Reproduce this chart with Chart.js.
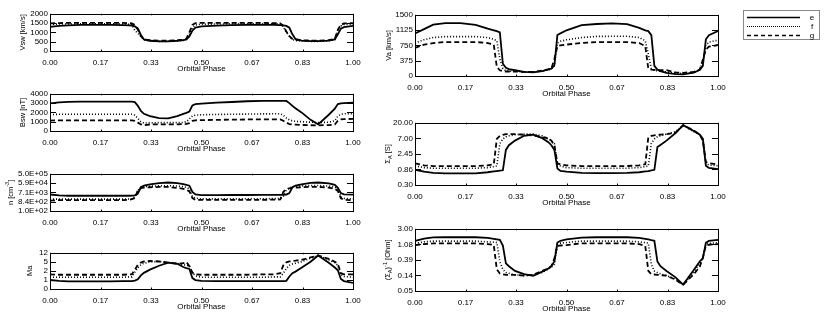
<!DOCTYPE html>
<html>
<head>
<meta charset="utf-8">
<script src="https://cdn.jsdelivr.net/npm/chart.js@4.4.1/dist/chart.umd.min.js"></script>
<style>
  html, body { margin: 0; padding: 0; background: #fff; }
  #wrap { position: relative; width: 830px; height: 320px; overflow: hidden; }
  .pane { position: absolute; }
</style>
</head>
<body>
<div id="wrap"></div>
<script>
// orbital phase grid shared by every series
var phase = [0, 0.03, 0.06, 0.10, 0.15, 0.20, 0.24, 0.26, 0.27, 0.28,
  0.29, 0.30, 0.31, 0.33, 0.36, 0.39, 0.42, 0.44, 0.45, 0.46,
  0.47, 0.48, 0.50, 0.55, 0.60, 0.65, 0.70, 0.74, 0.76, 0.77,
  0.78, 0.79, 0.80, 0.81, 0.83, 0.86, 0.885, 0.92, 0.94, 0.95,
  0.96, 0.97, 1.00];

var seriesNames = ['e', 'f', 'g'];
var xTickLabels = ['0.00', '0.17', '0.33', '0.50', '0.67', '0.83', '1.00'];

// Vsw [km/s]
var vswE = [1300,1350,1380,1400,1400,1400,1390,1380,1370,1330, 1200,860,620,550,520,520,550,580,620,780,
  1100,1260,1320,1360,1390,1400,1400,1400,1390,1380, 1350,1250,900,650,560,530,530,560,620,900, 1200,1280,1350];
var vswF = [1420,1450,1450,1460,1460,1460,1450,1440,1420,1100, 950,780,600,540,520,520,540,570,620,900,
  1250,1400,1440,1450,1460,1460,1460,1460,1450,1300, 1000,800,620,560,540,520,520,550,620,1100, 1350,1420,1440];
var vswG = [1480,1500,1510,1510,1510,1510,1510,1500,1480,1400, 1150,800,620,580,560,560,580,600,660,1000,
  1400,1500,1510,1510,1510,1510,1510,1500,1490,1350, 1050,800,650,600,580,560,560,580,650,1150, 1400,1480,1500];
var vswTickLabels = ['0', '500', '1000', '1500', '2000'];

// Bsw [nT]
var bswE = [2980,3080,3130,3150,3160,3160,3160,3150,3150,3100, 2700,2150,1850,1600,1380,1360,1600,1850,1950,2100,
  2750,2880,2950,3050,3120,3200,3230,3250,3250,3250, 3230,3000,2700,2450,2000,1200,720,1750,2400,2900, 2980,3000,3050];
var bswF = [1760,1800,1800,1800,1800,1800,1800,1800,1800,1700, 1350,1000,850,880,900,900,900,920,1000,1300,
  1630,1700,1750,1780,1800,1820,1840,1850,1850,1700, 1400,1200,1100,1050,1000,950,900,950,1100,1600, 1800,1850,1850];
var bswG = [1120,1150,1150,1150,1150,1150,1150,1150,1150,1100, 900,700,620,700,720,720,720,740,760,850,
  1080,1150,1170,1200,1220,1240,1250,1260,1250,1100, 900,750,700,680,650,620,600,640,700,1100, 1250,1280,1300];
var bswTickLabels = ['0', '1000', '2000', '3000', '4000'];

// n [cm-3]
var nE = [4400,3500,3300,3300,3300,3300,3300,3300,3400,3600, 5500,23000,33000,44000,59000,68000,60000,46000,40000,33000,
  8000,4500,3800,3800,3900,3900,4000,4000,4000,4000, 4200,6000,23000,33000,45000,62000,68000,55000,40000,20000, 6000,4500,4200];
var nF = [1500,1500,1500,1500,1500,1500,1500,1550,1600,2700, 11000,23000,26000,29000,32000,33000,30000,26000,22000,16000,
  2700,1900,1600,1600,1600,1650,1650,1700,1700,3000, 12000,20000,25000,28000,31000,34000,34000,30000,24000,15000, 2500,1800,1600];
var nG = [1070,1200,1230,1230,1230,1230,1230,1300,1500,1900, 11000,19000,21000,23000,24500,24500,20000,16000,13000,9000,
  1900,1300,1250,1250,1250,1300,1300,1350,1400,8000, 15000,18000,20000,21000,23000,25000,25000,21000,16000,10000, 1800,1300,1200];
var nTickLabels = ['1.0E+02', '8.4E+02', '7.1E+03', '5.9E+04', '5.0E+05'];

// Ma
var maE = [1.1,1.02,0.98,0.98,0.98,0.98,0.99,1.0,1.0,1.05, 1.17,1.65,2.06,2.74,3.86,5.1,4.57,3.44,3.1,2.9,
  1.3,1.1,1.02,1.0,1.0,1.0,1.0,1.0,1.0,1.0, 1.02,1.5,2.0,2.3,3.2,5.5,9.5,5.0,3.3,2.6, 1.2,1.0,0.85];
var maF = [1.4,1.4,1.4,1.4,1.4,1.4,1.4,1.45,1.45,2.2, 3.2,4.2,4.8,5.4,5.6,5.1,4.8,4.2,4.0,3.9,
  2.1,1.6,1.4,1.4,1.4,1.4,1.4,1.45,1.45,2.0, 3.0,4.0,4.5,4.8,5.5,7.5,9.5,6.5,5.0,4.0, 1.8,1.5,1.4];
var maG = [1.8,1.75,1.75,1.75,1.75,1.75,1.75,1.8,1.8,2.7, 4.2,5.1,5.6,5.9,5.6,5.1,4.6,4.8,5.4,3.7,
  2.1,1.8,1.75,1.75,1.75,1.75,1.8,1.8,2.0,4.0, 5.2,5.6,5.8,6.0,6.5,8.0,9.5,7.0,5.5,4.5, 2.0,1.8,1.8];
var maTickLabels = ['0', '1', '2', '5', '12'];

// Va [km/s]
var vaE = [1044,1150,1260,1295,1295,1255,1160,1120,1100,1070, 300,200,170,141,100,88,120,165,180,260,
  1005,1044,1120,1245,1275,1290,1272,1178,1120,1100, 1000,250,157,120,78,47,40,80,150,250, 900,1000,1100];
var vaF = [808,890,942,965,965,965,942,900,864,416, 180,126,120,118,100,100,120,150,173,260,
  808,850,887,942,970,973,973,942,864,534, 180,141,126,115,100,70,60,90,150,350, 750,830,880];
var vaG = [690,770,808,832,832,832,808,770,220,141, 120,110,110,110,100,100,130,160,180,416,
  730,750,770,808,832,832,832,808,730,180, 157,150,141,141,141,90,78,100,160,400, 650,720,760];
var vaTickLabels = ['0', '375', '750', '1125', '1500'];

// Sigma_A [S]
var sigE = [0.84,0.74,0.68,0.66,0.66,0.66,0.71,0.75,0.77,0.79, 0.81,3.2,4.4,6.0,8.3,9.0,7.1,5.4,4.4,3.2,
  0.91,0.78,0.74,0.68,0.67,0.67,0.68,0.71,0.75,0.77, 0.8,0.84,3.9,4.5,6.0,10,17,11.5,9,6.8, 1.1,0.95,0.88];
var sigF = [1.08,0.97,0.93,0.93,0.93,0.93,0.97,1.04,1.08,4.9, 6.7,7.8,8.3,8.9,9.3,9.3,8.3,6.7,6.0,4.9,
  1.21,1.08,0.97,0.93,0.93,0.93,0.93,0.97,1.04,1.08, 4.9,6.7,7.8,8.3,9.3,11,17,11,9,7, 1.3,1.15,1.1];
var sigG = [1.29,1.13,1.08,1.08,1.08,1.08,1.13,1.21,6.7,8.3, 8.9,9.3,9.3,9.3,8.9,8.5,7.5,7.1,6.0,4.4,
  1.29,1.21,1.13,1.08,1.08,1.08,1.08,1.13,1.21,7.5, 8.3,8.6,8.9,9.0,9.3,10.3,17,12,9,6, 1.4,1.3,1.2];
var sigTickLabels = ['0.30', '0.86', '2.45', '7.00', '20.00'];

// (Sigma_A)^-1 [Ohm]
var invE = [1.36,1.57,1.71,1.72,1.72,1.72,1.64,1.55,1.5,1.45, 0.99,0.31,0.255,0.187,0.151,0.135,0.179,0.22,0.255,0.35,
  1.22,1.36,1.5,1.68,1.72,1.72,1.72,1.64,1.55,1.5, 1.42,1.36,0.35,0.255,0.187,0.123,0.076,0.2,0.35,0.43, 1.2,1.35,1.45];
var invF = [1.15,1.27,1.33,1.33,1.33,1.33,1.27,1.24,1.22,0.35, 0.207,0.168,0.16,0.145,0.137,0.145,0.17,0.21,0.24,0.29,
  1.1,1.17,1.22,1.33,1.33,1.33,1.33,1.27,1.2,1.17, 0.29,0.187,0.168,0.155,0.137,0.11,0.076,0.17,0.3,0.45, 1.1,1.15,1.2];
var invG = [1.03,1.1,1.15,1.15,1.15,1.15,1.1,1.03,0.207,0.158, 0.15,0.145,0.145,0.145,0.137,0.145,0.19,0.22,0.255,0.43,
  0.97,1.0,1.03,1.15,1.15,1.15,1.15,1.1,0.97,0.187, 0.151,0.148,0.145,0.142,0.137,0.105,0.076,0.15,0.25,0.45, 1.0,1.05,1.1];
var invTickLabels = ['0.05', '0.14', '0.39', '1.08', '3.00'];


var FONT = {family: '"Liberation Sans", Arial, sans-serif', size: 8};
var TITLE_SIZE = 7.5;
var lineStyles = [
  {borderDash: [], borderWidth: 1.8},
  {borderDash: [1, 2], borderWidth: 1.6},
  {borderDash: [5, 3], borderWidth: 1.8}
];

// panel layout: plot box in page pixels
var panels = [
  {left: 50, top: 11, w: 303, h: 40, type: 'linear', min: 0, max: 2000, labels: vswTickLabels,
   series: [vswE, vswF, vswG], titleX: 22.5, title: [['Vsw [km/s]', 0]]},
  {left: 50, top: 91, w: 303, h: 40, type: 'linear', min: 0, max: 4000, labels: bswTickLabels,
   series: [bswE, bswF, bswG], titleX: 22.5, title: [['Bsw [nT]', 0]]},
  {left: 50, top: 171, w: 303, h: 40, type: 'logarithmic', min: 100, max: 5e5, labels: nTickLabels,
   series: [nE, nF, nG], titleX: 10.5, title: [['n [cm', 0], ['-3', 1], [']', 0]]},
  {left: 50, top: 250, w: 303, h: 39, type: 'logarithmic', min: 0.5, max: 12, labels: maTickLabels,
   series: [maE, maF, maG], titleX: 30, title: [['Ma', 0]]},
  {left: 415, top: 12, w: 303, h: 64, type: 'linear', min: 0, max: 1500, labels: vaTickLabels,
   series: [vaE, vaF, vaG], titleX: 389, title: [['Va [km/s]', 0]], legend: true},
  {left: 415, top: 120, w: 303, h: 65, type: 'logarithmic', min: 0.3, max: 20, labels: sigTickLabels,
   series: [sigE, sigF, sigG], titleX: 388, title: [['\u03A3', 0], ['A', -1], [' [S]', 0]]},
  {left: 415, top: 226, w: 303, h: 65, type: 'logarithmic', min: 0.05, max: 3, labels: invTickLabels,
   series: [invE, invF, invG], titleX: 388, title: [['(\u03A3', 0], ['A', -1], [')', 0], ['-1', 1], [' [Ohm]', 0]]}
];

var AXW = 50, PADT = 4, AXH = 28, PADR = 20;

function tickValues(p) {
  var out = [];
  for (var k = 0; k < p.labels.length; k++) {
    var f = k / (p.labels.length - 1);
    if (p.type === 'logarithmic') out.push(p.min * Math.pow(p.max / p.min, f));
    else out.push(p.min + (p.max - p.min) * f);
  }
  return out;
}

// IDL style box with inward ticks on all four sides
var idlFrame = {
  id: 'idlFrame',
  afterDraw: function(chart) {
    var a = chart.chartArea, ctx = chart.ctx;
    var xs = chart.scales.x, ys = chart.scales.y;
    var tx = Math.max(1.5, 0.02 * (a.bottom - a.top));
    var ty = 0.02 * (a.right - a.left);
    ctx.save();
    ctx.strokeStyle = '#000';
    ctx.lineWidth = 1;
    ctx.strokeRect(Math.round(a.left) + 0.5, Math.round(a.top) + 0.5,
      Math.round(a.right - a.left), Math.round(a.bottom - a.top));
    ctx.beginPath();
    xs.ticks.forEach(function(t) {
      var px = Math.round(xs.getPixelForValue(t.value)) + 0.5;
      ctx.moveTo(px, a.bottom); ctx.lineTo(px, a.bottom - tx);
      ctx.moveTo(px, a.top); ctx.lineTo(px, a.top + tx);
    });
    ys.ticks.forEach(function(t) {
      var py = Math.round(ys.getPixelForValue(t.value)) + 0.5;
      ctx.moveTo(a.left, py); ctx.lineTo(a.left + ty, py);
      ctx.moveTo(a.right, py); ctx.lineTo(a.right - ty, py);
    });
    ctx.stroke();
    ctx.restore();
  }
};

// rotated y title with sub/superscripts
var yTitle = {
  id: 'yTitle',
  afterDraw: function(chart, args, opts) {
    if (!opts.parts) return;
    var ctx = chart.ctx, a = chart.chartArea;
    var big = TITLE_SIZE, small = TITLE_SIZE * 0.75;
    ctx.save();
    var total = 0;
    opts.parts.forEach(function(p) {
      ctx.font = (p[1] ? small : big) + 'px ' + FONT.family;
      total += ctx.measureText(p[0]).width;
    });
    ctx.translate(opts.x, (a.top + a.bottom) / 2);
    ctx.rotate(-Math.PI / 2);
    ctx.fillStyle = '#000';
    ctx.textBaseline = 'middle';
    var cx = -total / 2;
    opts.parts.forEach(function(p) {
      ctx.font = (p[1] ? small : big) + 'px ' + FONT.family;
      var dy = p[1] === 1 ? -3 : (p[1] === -1 ? 2.5 : 0);
      ctx.fillText(p[0], cx, dy);
      cx += ctx.measureText(p[0]).width;
    });
    ctx.restore();
  }
};

// small boxed legend to the right of the top right panel
var idlLegend = {
  id: 'idlLegend',
  afterDraw: function(chart, args, opts) {
    if (!opts.show) return;
    var ctx = chart.ctx;
    var bx = 743 - opts.ox, by = 10 - opts.oy;
    ctx.save();
    ctx.strokeStyle = '#888';
    ctx.lineWidth = 1;
    ctx.strokeRect(bx + 0.5, by + 0.5, 76, 29);
    ctx.font = FONT.size + 'px ' + FONT.family;
    ctx.textBaseline = 'middle';
    ctx.textAlign = 'center';
    chart.data.datasets.forEach(function(ds, i) {
      var y = by + 7.5 + i * 9;
      ctx.strokeStyle = '#000';
      ctx.lineWidth = i === 1 ? 1 : 1.4;
      ctx.setLineDash(i === 1 ? [1, 1] : (i === 2 ? [4, 3] : []));
      ctx.beginPath();
      ctx.moveTo(bx + 4, y); ctx.lineTo(bx + 57, y);
      ctx.stroke();
      ctx.setLineDash([]);
      ctx.fillStyle = '#000';
      ctx.fillText(ds.label, bx + 69, y + 0.5);
    });
    ctx.restore();
  }
};

var wrap = document.getElementById('wrap');

panels.forEach(function(p, idx) {
  var padR = p.legend ? 830 - (p.left + p.w) : PADR;
  var ox = p.left - AXW, oy = p.top - PADT;
  var div = document.createElement('div');
  div.className = 'pane';
  div.style.left = ox + 'px';
  div.style.top = oy + 'px';
  var cv = document.createElement('canvas');
  cv.width = AXW + p.w + padR;
  cv.height = PADT + p.h + AXH;
  cv.style.width = cv.width + 'px';
  cv.style.height = cv.height + 'px';
  div.appendChild(cv);
  wrap.appendChild(div);

  var yt = tickValues(p);
  var datasets = p.series.map(function(arr, i) {
    return {
      label: seriesNames[i],
      data: phase.map(function(ph, j) { return {x: ph, y: arr[j]}; }),
      borderColor: '#000',
      borderWidth: lineStyles[i].borderWidth,
      borderDash: lineStyles[i].borderDash,
      pointRadius: 0,
      tension: 0,
      fill: false
    };
  });

  new Chart(cv.getContext('2d'), {
    type: 'line',
    data: {datasets: datasets},
    options: {
      responsive: false,
      animation: false,
      devicePixelRatio: 1,
      layout: {padding: {top: PADT, right: padR, left: 0, bottom: 0}},
      plugins: {
        legend: {display: false},
        tooltip: {enabled: false},
        yTitle: {parts: p.title, x: p.titleX - ox},
        idlLegend: {show: !!p.legend, ox: ox, oy: oy}
      },
      scales: {
        x: {
          type: 'linear', min: 0, max: 1,
          grid: {display: false, drawTicks: false}, border: {display: false},
          ticks: {
            color: '#000', font: FONT, padding: 7, maxRotation: 0, autoSkip: false,
            callback: function(v, i) { return xTickLabels[i]; }
          },
          afterBuildTicks: function(s) {
            s.ticks = xTickLabels.map(function(t, i) { return {value: i / (xTickLabels.length - 1)}; });
          },
          afterFit: function(s) { s.height = AXH; },
          title: {display: true, text: 'Orbital Phase', color: '#000', font: FONT, padding: {top: 0, bottom: 5}}
        },
        y: {
          type: p.type, min: p.min, max: p.max, bounds: 'data',
          grid: {display: false, drawTicks: false}, border: {display: false},
          ticks: {
            color: '#000', font: FONT, padding: 2, autoSkip: false,
            callback: function(v, i) { return p.labels[i]; }
          },
          afterBuildTicks: function(s) {
            s.ticks = yt.map(function(v) { return {value: v}; });
          },
          afterFit: function(s) { s.width = AXW; }
        }
      }
    },
    plugins: [idlFrame, yTitle, idlLegend]
  });
});
</script>
</body>
</html>
